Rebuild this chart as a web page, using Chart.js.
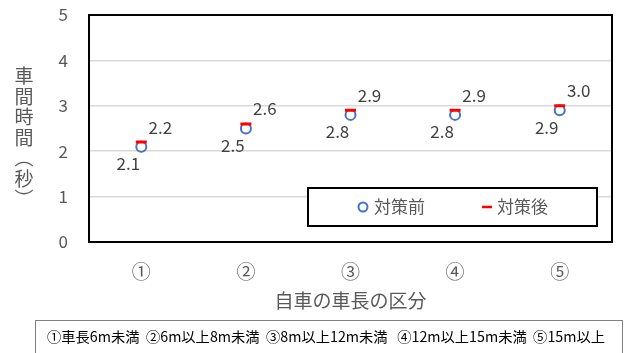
<!DOCTYPE html>
<html>
<head>
<meta charset="utf-8">
<script src="https://cdn.jsdelivr.net/npm/chart.js@4"></script>
<style>
  html, body { margin: 0; padding: 0; background: #fff; }
  #wrap { width: 632px; height: 353px; }
</style>
</head>
<body>
<div id="wrap"><canvas id="mycanvas" width="632" height="353"></canvas></div>
<script>
var categories = ["①", "②", "③", "④", "⑤"];
var before = [2.1, 2.5, 2.8, 2.8, 2.9];
var after = [2.2, 2.6, 2.9, 2.9, 3.0];
var yTicks = [0, 1, 2, 3, 4, 5];
var seriesNames = ["対策前", "対策後"];
var yTitle = ["車", "間", "時", "間", "︵", "秒", "︶"];
var xTitle = "自車の車長の区分";
var note = "①車長6m未満  ②6m以上8m未満  ③8m以上12m未満   ④12m以上15m未満  ⑤15m以上";

var JP = "'Noto Sans CJK JP', 'Noto Sans', sans-serif";
var BLUE = "#4472C4";
var RED = "#FF0000";
var GREY = "#595959";

// value labels, border, legend box, titles and the footnote box
var extras = {
  id: "extras",
  afterDatasetsDraw: function(chart) {
    var ctx = chart.ctx;
    var area = chart.chartArea;
    ctx.save();

    ctx.font = "17px " + JP;
    ctx.fillStyle = "#404040";
    ctx.textAlign = "center";
    ctx.textBaseline = "middle";
    chart.getDatasetMeta(0).data.forEach(function(pt, i) {
      ctx.fillText(before[i].toFixed(1), pt.x - 13, pt.y + 17);
    });
    chart.getDatasetMeta(1).data.forEach(function(pt, i) {
      ctx.fillText(after[i].toFixed(1), pt.x + 19, pt.y - 15);
    });

    // plot border
    ctx.strokeStyle = "#000";
    ctx.lineWidth = 2;
    ctx.strokeRect(area.left, area.top, area.right - area.left, area.bottom - area.top);

    // legend
    ctx.fillStyle = "#fff";
    ctx.fillRect(308, 188, 289, 38);
    ctx.strokeRect(308, 188, 289, 38);
    ctx.beginPath();
    ctx.arc(363, 207, 4.5, 0, Math.PI * 2);
    ctx.strokeStyle = BLUE;
    ctx.lineWidth = 2;
    ctx.stroke();
    ctx.strokeStyle = RED;
    ctx.lineWidth = 2.5;
    ctx.beginPath();
    ctx.moveTo(482, 207);
    ctx.lineTo(492, 207);
    ctx.stroke();
    ctx.font = "17px " + JP;
    ctx.fillStyle = GREY;
    ctx.textAlign = "left";
    ctx.fillText(seriesNames[0], 374, 207);
    ctx.fillText(seriesNames[1], 497, 207);

    // y title, upright stacked characters
    ctx.font = "19px " + JP;
    ctx.textAlign = "center";
    yTitle.forEach(function(ch, i) {
      ctx.fillText(ch, 24, 76 + i * 20.5);
    });

    // x title
    ctx.font = "19px " + JP;
    ctx.fillText(xTitle, (area.left + area.right) / 2, 301);

    // footnote box, text squeezed/stretched to the box width
    ctx.strokeStyle = "#7f7f7f";
    ctx.lineWidth = 1;
    ctx.strokeRect(35.5, 320.5, 587, 40);
    ctx.font = "14px " + JP;
    ctx.fillStyle = "#000";
    ctx.textAlign = "left";
    var w = ctx.measureText(note).width;
    ctx.translate(47, 337);
    ctx.scale(558 / w, 1);
    ctx.fillText(note, 0, 0);

    ctx.restore();
  }
};

var ctx = document.getElementById("mycanvas");

var graphdata = {
  labels: categories,
  datasets: [
    {
      label: seriesNames[0],
      data: before,
      order: 2,
      showLine: false,
      pointStyle: "circle",
      pointRadius: 5,
      pointBorderWidth: 2,
      pointBackgroundColor: "#fff",
      pointBorderColor: BLUE
    },
    {
      label: seriesNames[1],
      data: after,
      order: 1,
      showLine: false,
      pointStyle: "line",
      pointRadius: 5.5,
      pointBorderWidth: 3,
      pointBorderColor: RED,
      pointBackgroundColor: RED
    }
  ]
};

var LineGraph = new Chart(ctx, {
  type: "line",
  data: graphdata,
  plugins: [extras],
  options: {
    responsive: false,
    animation: false,
    layout: { padding: { left: 0, right: 20, top: 15, bottom: 0 } },
    plugins: {
      legend: { display: false },
      tooltip: { enabled: false }
    },
    scales: {
      x: {
        offset: true,
        grid: { display: false, drawTicks: false },
        border: { display: false },
        ticks: { color: GREY, font: { size: 19, family: JP }, padding: 18 },
        afterFit: function(scale) { scale.height = 111; }
      },
      y: {
        min: yTicks[0],
        max: yTicks[yTicks.length - 1],
        afterBuildTicks: function(scale) {
          scale.ticks = yTicks.map(function(v) { return { value: v }; });
        },
        grid: { color: "#d9d9d9", lineWidth: 1.5, drawTicks: false },
        border: { display: false },
        ticks: { color: GREY, font: { size: 17, family: JP }, padding: 21 },
        afterFit: function(scale) {
          scale.width = 89;
          scale.paddingTop = 0;
          scale.paddingBottom = 0;
        }
      }
    }
  }
});
</script>
</body>
</html>
